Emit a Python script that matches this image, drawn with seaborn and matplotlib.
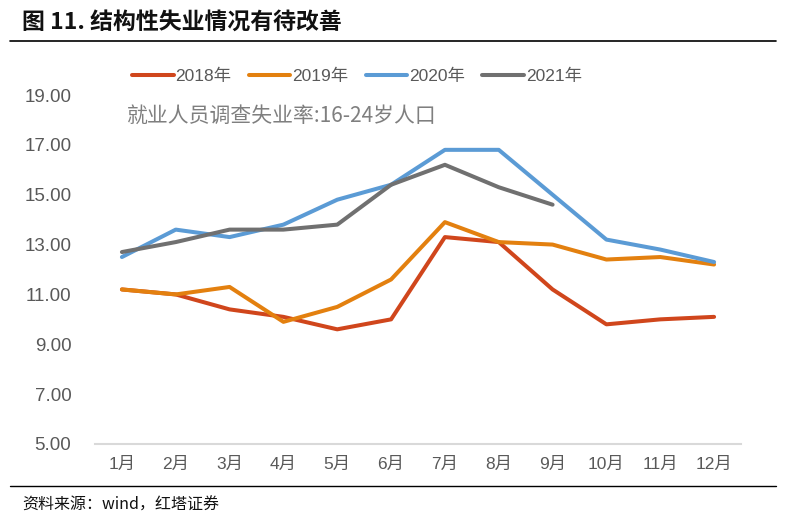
import pandas as pd
import matplotlib
matplotlib.use('Agg')
import matplotlib.pyplot as plt
import seaborn as sns

# Monthly youth (16-24) surveyed unemployment rate, %
months = ['1月', '2月', '3月', '4月', '5月', '6月', '7月', '8月', '9月', '10月', '11月', '12月']
rate_2018 = [11.2, 11.0, 10.4, 10.1, 9.6, 10.0, 13.3, 13.1, 11.2, 9.8, 10.0, 10.1]
rate_2019 = [11.2, 11.0, 11.3, 9.9, 10.5, 11.6, 13.9, 13.1, 13.0, 12.4, 12.5, 12.2]
rate_2020 = [12.5, 13.6, 13.3, 13.8, 14.8, 15.4, 16.8, 16.8, 15.0, 13.2, 12.8, 12.3]
rate_2021 = [12.7, 13.1, 13.6, 13.6, 13.8, 15.4, 16.2, 15.3, 14.6]
years = ['2018年', '2019年', '2020年', '2021年']
y_ticks = [5, 7, 9, 11, 13, 15, 17, 19]

colors = ['#D0461C', '#E3800F', '#5B9BD5', '#707070']

# Build a long table for seaborn
frames = []
for year, vals in zip(years, [rate_2018, rate_2019, rate_2020, rate_2021]):
    frames.append(pd.DataFrame({'month': months[:len(vals)], 'rate': vals, 'year': year}))
df = pd.concat(frames, ignore_index=True)
df['pos'] = df['month'].map({m: i for i, m in enumerate(months)})

sns.set_style('white')
plt.rcParams['font.family'] = ['Liberation Sans', 'Noto Sans CJK SC', 'DejaVu Sans']

fig = plt.figure(figsize=(7.86, 5.21), dpi=100)
ax = fig.add_axes([95 / 786, 1 - 444 / 521, 646 / 786, 349 / 521])

sns.lineplot(data=df, x='pos', y='rate', hue='year', palette=colors,
             linewidth=2.9, sort=False, ax=ax, legend=False)

ax.set_xlim(-0.5, 11.5)
ax.set_ylim(5, 19)
ax.set_xticks(range(len(months)))
ax.set_xticklabels(months)
ax.set_yticks(y_ticks)
ax.set_yticklabels([f'{v:.2f}' for v in y_ticks])
ax.tick_params(axis='y', length=0, labelsize=13.5, colors='#595959', pad=17)
ax.tick_params(axis='x', length=0, labelsize=12.5, colors='#595959', pad=9)
ax.set_xlabel('')
ax.set_ylabel('')
for side in ['left', 'right', 'top']:
    ax.spines[side].set_visible(False)
ax.spines['bottom'].set_color('#D9D9D9')
ax.spines['bottom'].set_linewidth(1.5)
ax.set_facecolor('none')

# Legend across the top
handles = [plt.Line2D([], [], color=c, lw=2.9) for c in colors]
fig.legend(handles, years, loc='center', bbox_to_anchor=(0.454, 1 - 76 / 521),
           ncol=4, frameon=False, fontsize=12.5, handlelength=2.4,
           handletextpad=0.1, columnspacing=1.0, labelcolor='#595959')

ax.text(0.05, 0.94, '就业人员调查失业率:16-24岁人口', transform=ax.transAxes,
        fontsize=15, color='#7F7F7F', va='center', ha='left',
        family=['Noto Sans CJK SC'])

# Title and source with rules
fig.text(22 / 786, 1 - 22 / 521, '图 11. 结构性失业情况有待改善', fontsize=16.5,
         fontweight='bold', va='center', ha='left', color='#111111',
         family=['Noto Sans CJK SC', 'DejaVu Sans'])
fig.add_artist(plt.Line2D([10 / 786, 776 / 786], [1 - 41 / 521] * 2, color='black', lw=1.2))
fig.add_artist(plt.Line2D([10 / 786, 776 / 786], [1 - 486 / 521] * 2, color='black', lw=1.0))
fig.text(22 / 786, 1 - 505 / 521, '资料来源：wind，红塔证券', fontsize=11.5,
         va='center', ha='left', color='#111111',
         family=['Noto Sans CJK SC', 'DejaVu Sans'])

fig.savefig('out.png', dpi=100)
